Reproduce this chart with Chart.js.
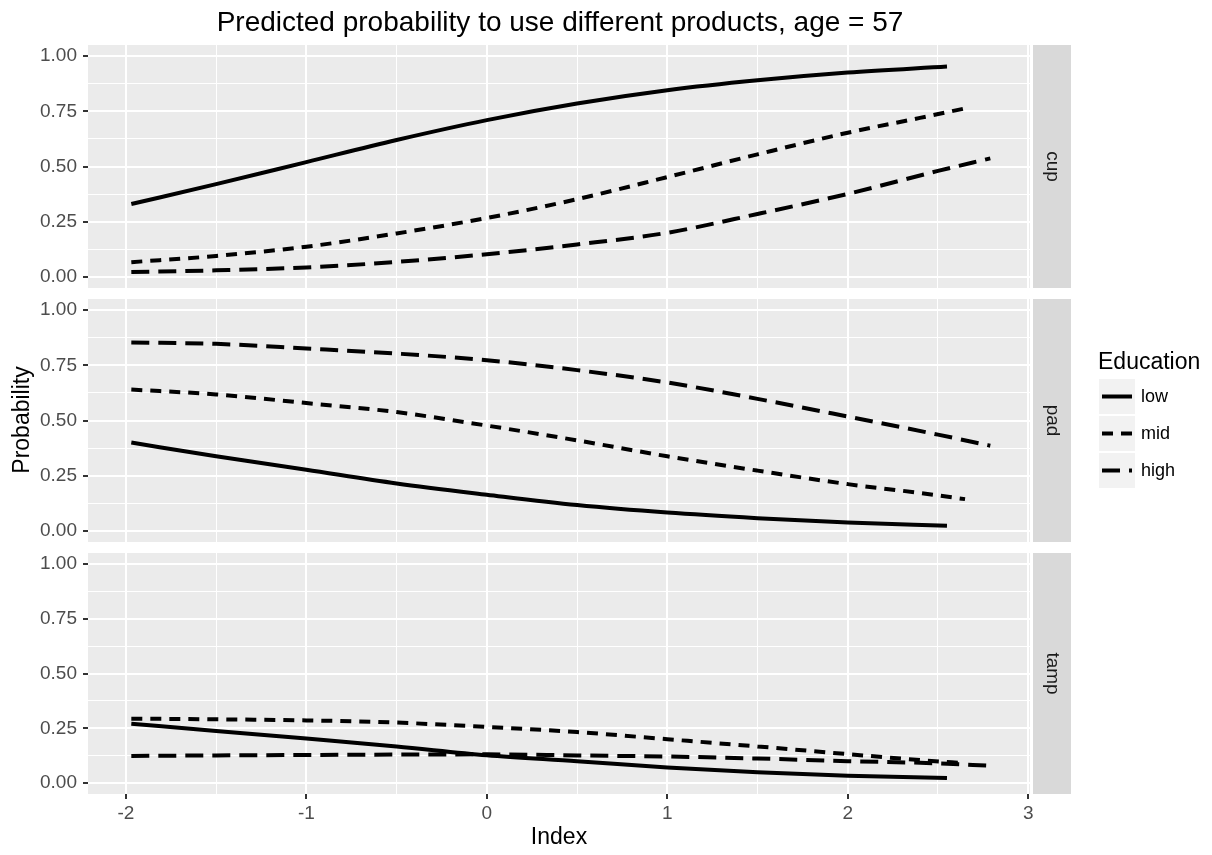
<!DOCTYPE html>
<html>
<head>
<meta charset="utf-8">
<title>Predicted probability to use different products</title>
<script src="https://cdn.jsdelivr.net/npm/chart.js@4.4.1/dist/chart.umd.min.js"></script>
<style>
  html, body { margin: 0; padding: 0; background: #fff; }
  #wrap { position: relative; width: 1212px; height: 855px; }
  #wrap canvas { position: absolute; left: 0; top: 0; }
</style>
</head>
<body>
<div id="wrap">
  <canvas id="cup" width="1212" height="855"></canvas>
  <canvas id="pad" width="1212" height="855"></canvas>
  <canvas id="tamp" width="1212" height="855"></canvas>
</div>
<script>
// index values (x) per education level, the three levels stop at different x
const indexLow  = [-1.97, -1.5, -1, -0.5, 0, 0.5, 1, 1.5, 2, 2.55];
const indexMid  = [-1.97, -1.5, -1, -0.5, 0, 0.5, 1, 1.5, 2, 2.4, 2.65];
const indexHigh = [-1.97, -1.5, -1, -0.5, 0, 0.5, 1, 1.5, 2, 2.5, 2.79];

// predicted probabilities
const cupLow   = [0.33, 0.42, 0.52, 0.62, 0.71, 0.785, 0.845, 0.89, 0.925, 0.953];
const cupMid   = [0.067, 0.095, 0.137, 0.197, 0.267, 0.352, 0.452, 0.555, 0.653, 0.72, 0.763];
const cupHigh  = [0.022, 0.03, 0.043, 0.068, 0.103, 0.147, 0.2, 0.285, 0.376, 0.48, 0.537];

const padLow   = [0.40, 0.338, 0.277, 0.215, 0.164, 0.117, 0.083, 0.058, 0.038, 0.024];
const padMid   = [0.64, 0.618, 0.579, 0.538, 0.477, 0.41, 0.338, 0.273, 0.212, 0.172, 0.144];
const padHigh  = [0.853, 0.847, 0.826, 0.803, 0.773, 0.728, 0.672, 0.598, 0.518, 0.436, 0.386];

const tampLow  = [0.271, 0.238, 0.203, 0.167, 0.127, 0.10, 0.071, 0.049, 0.033, 0.023];
const tampMid  = [0.294, 0.291, 0.286, 0.276, 0.256, 0.233, 0.20, 0.167, 0.132, 0.105, 0.09];
const tampHigh = [0.124, 0.126, 0.128, 0.13, 0.131, 0.126, 0.121, 0.112, 0.10, 0.09, 0.079];

const educations = ['low', 'mid', 'high'];
const xTicks = [-2, -1.5, -1, -0.5, 0, 0.5, 1, 1.5, 2, 2.5, 3];
const yTicks = [0, 0.125, 0.25, 0.375, 0.5, 0.625, 0.75, 0.875, 1];

const dashes = { low: [], mid: [11, 8], high: [18, 9] };
const FONT = '"Liberation Sans", Arial, Helvetica, sans-serif';
const PANEL_H = 243;

const isMajorY = v => Math.abs(v * 4 - Math.round(v * 4)) < 1e-6;

// grey panel + strip on the right, plus any extra text for that canvas
const facetDecor = {
  id: 'facetDecor',
  beforeDraw(chart, args, opts) {
    const ctx = chart.ctx, a = chart.chartArea;
    ctx.save();
    ctx.fillStyle = '#EBEBEB';
    ctx.fillRect(a.left, a.top, a.right - a.left, a.bottom - a.top);
    ctx.fillStyle = '#D9D9D9';
    ctx.fillRect(a.right + 3, a.top, 38, a.bottom - a.top);
    ctx.translate(a.right + 3 + 19, (a.top + a.bottom) / 2);
    ctx.rotate(Math.PI / 2);
    ctx.fillStyle = '#1A1A1A';
    ctx.font = '19px ' + FONT;
    ctx.textAlign = 'center';
    ctx.textBaseline = 'middle';
    ctx.fillText(opts.strip, 0, 0);
    ctx.restore();
  },
  afterDraw(chart, args, opts) {
    if (opts.extra) {
      chart.ctx.save();
      opts.extra(chart.ctx);
      chart.ctx.restore();
    }
  }
};

function drawTitle(ctx) {
  ctx.fillStyle = '#000';
  ctx.font = '28px ' + FONT;
  ctx.textAlign = 'center';
  ctx.textBaseline = 'middle';
  ctx.fillText('Predicted probability to use different products, age = 57', 560, 23);
}

function drawLegendAndY(ctx) {
  ctx.fillStyle = '#000';
  ctx.font = '23px ' + FONT;
  ctx.textAlign = 'left';
  ctx.textBaseline = 'middle';
  ctx.fillText('Education', 1098, 363);
  educations.forEach((e, i) => {
    const y0 = 379 + i * 37;
    ctx.fillStyle = '#F2F2F2';
    ctx.fillRect(1099, y0, 36, 35);
    ctx.strokeStyle = '#000';
    ctx.lineWidth = 4;
    ctx.lineCap = 'butt';
    ctx.setLineDash(dashes[e]);
    ctx.beginPath();
    ctx.moveTo(1102, y0 + 17.5);
    ctx.lineTo(1132, y0 + 17.5);
    ctx.stroke();
    ctx.setLineDash([]);
    ctx.fillStyle = '#000';
    ctx.font = '18px ' + FONT;
    ctx.fillText(e, 1141, y0 + 18);
  });
  // shared y axis title
  ctx.translate(23, 420);
  ctx.rotate(-Math.PI / 2);
  ctx.font = '23px ' + FONT;
  ctx.textAlign = 'center';
  ctx.fillText('Probability', 0, 0);
}

function drawXTitle(ctx) {
  ctx.fillStyle = '#000';
  ctx.font = '23px ' + FONT;
  ctx.textAlign = 'center';
  ctx.textBaseline = 'middle';
  ctx.fillText('Index', 559, 838);
}

function makePanel(id, strip, low, mid, high, top, isBottom, extra) {
  const series = { low: [indexLow, low], mid: [indexMid, mid], high: [indexHigh, high] };
  const datasets = educations.map(e => ({
    label: e,
    data: series[e][0].map((x, i) => ({ x: x, y: series[e][1][i] })),
    borderColor: '#000',
    borderWidth: 4,
    borderDash: dashes[e],
    borderCapStyle: 'butt',
    pointRadius: 0,
    cubicInterpolationMode: 'monotone',
    fill: false
  }));

  return new Chart(document.getElementById(id), {
    type: 'line',
    data: { datasets: datasets },
    plugins: [facetDecor],
    options: {
      responsive: false,
      animation: false,
      devicePixelRatio: 1,
      events: [],
      layout: {
        padding: { left: 0, top: top, right: 1212 - 1030, bottom: isBottom ? 0 : 855 - top - PANEL_H }
      },
      plugins: {
        legend: { display: false },
        tooltip: { enabled: false },
        facetDecor: { strip: strip, extra: extra }
      },
      scales: {
        x: {
          type: 'linear',
          min: -2.21,
          max: 3.01,
          afterBuildTicks: s => { s.ticks = xTicks.map(v => ({ value: v })); },
          afterFit: s => { s.height = isBottom ? 61 : 0; },
          border: { display: false },
          grid: {
            color: '#FFFFFF',
            lineWidth: c => (c.tick && Number.isInteger(c.tick.value)) ? 2 : 1,
            drawTicks: isBottom,
            tickLength: 5,
            tickWidth: 2,
            tickColor: c => (c.tick && Number.isInteger(c.tick.value)) ? '#333333' : 'rgba(0,0,0,0)'
          },
          ticks: {
            display: isBottom,
            autoSkip: false,
            maxRotation: 0,
            padding: 3,
            color: '#4D4D4D',
            font: { family: FONT, size: 19 },
            callback: v => Number.isInteger(v) ? String(v) : ''
          }
        },
        y: {
          type: 'linear',
          min: -0.05,
          max: 1.05,
          afterBuildTicks: s => { s.ticks = yTicks.map(v => ({ value: v })); },
          afterFit: s => { s.width = 88; },
          border: { display: false },
          grid: {
            color: '#FFFFFF',
            lineWidth: c => (c.tick && isMajorY(c.tick.value)) ? 2 : 1,
            tickLength: 5,
            tickWidth: 2,
            tickColor: c => (c.tick && isMajorY(c.tick.value)) ? '#333333' : 'rgba(0,0,0,0)'
          },
          ticks: {
            autoSkip: false,
            padding: 6,
            color: '#4D4D4D',
            font: { family: FONT, size: 19 },
            callback: v => isMajorY(v) ? v.toFixed(2) : ''
          }
        }
      }
    }
  });
}

makePanel('cup', 'cup', cupLow, cupMid, cupHigh, 45, false, drawTitle);
makePanel('pad', 'pad', padLow, padMid, padHigh, 299, false, drawLegendAndY);
makePanel('tamp', 'tamp', tampLow, tampMid, tampHigh, 553, true, drawXTitle);
</script>
</body>
</html>
